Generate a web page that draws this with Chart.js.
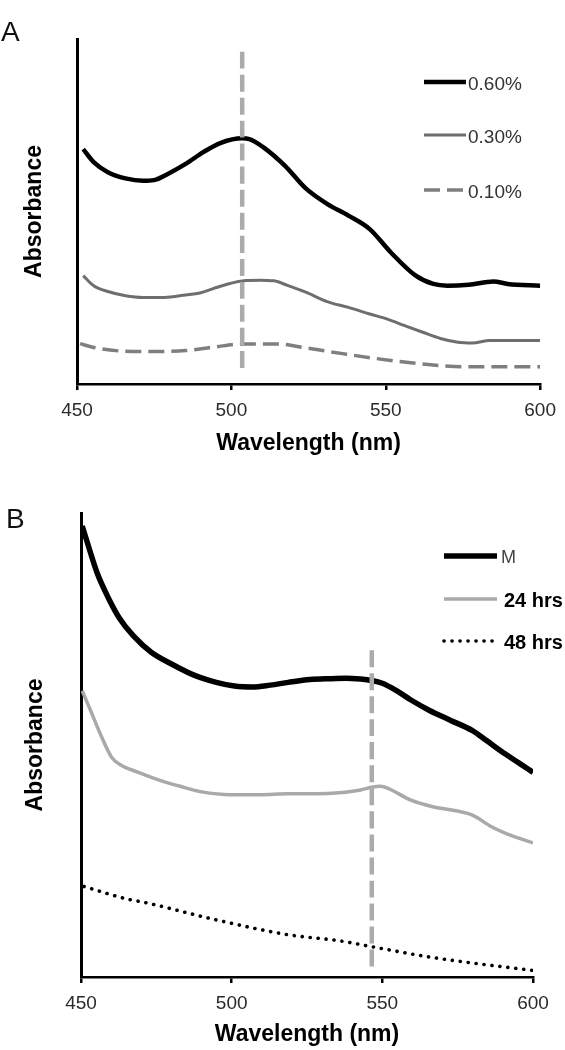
<!DOCTYPE html>
<html><head><meta charset="utf-8">
<script src="https://cdn.jsdelivr.net/npm/chart.js@4.4.1/dist/chart.umd.min.js"></script>
<style>
html,body{margin:0;padding:0;background:#fff;}
body{width:565px;height:1050px;position:relative;overflow:hidden;font-family:'Liberation Sans',Arial,sans-serif;}
.panel{position:absolute;left:0;width:565px;}
.lbl{position:absolute;font-size:28px;line-height:28px;color:#111;}
.txt{position:absolute;white-space:nowrap;}
#leg{position:absolute;left:0;top:0;}
</style></head><body>
<div class="panel" style="top:0;height:470px;"><canvas id="cA"></canvas></div>
<div class="panel" style="top:470px;height:580px;"><canvas id="cB"></canvas></div>
<div class="lbl" style="left:1px;top:18px;">A</div>
<div class="lbl" style="left:6px;top:505px;">B</div>
<svg id="leg" width="565" height="1050" xmlns="http://www.w3.org/2000/svg"></svg>
<script>
// ---------- DATA ----------
const xTicks = [450, 500, 550, 600];
const xTitle = 'Wavelength (nm)';
const yTitle = 'Absorbance';

// Panel A
const namesA = ['0.60%', '0.30%', '0.10%'];
const wlA60 = [452,455.4,460,465.7,471.4,474.9,479.4,485.2,490.9,496.6,503.5,505.8,510.4,517.3,524.1,531,537.9,544.8,551.6,559.7,565.4,570,576.9,584.9,589.5,600];
const absA60 = [0.681,0.643,0.614,0.596,0.589,0.591,0.609,0.638,0.672,0.699,0.712,0.710,0.686,0.633,0.567,0.522,0.488,0.449,0.382,0.314,0.290,0.285,0.288,0.297,0.290,0.285];
const wlA30 = [452,455.4,460,465.7,471.4,478.3,485.2,489.8,494.3,498.9,504.7,509.2,513.8,518.4,524.1,531,537.9,544.8,550.5,556.2,562,567.7,573.4,578,583.7,591.7,600];
const absA30 = [0.314,0.285,0.268,0.256,0.251,0.251,0.258,0.264,0.277,0.290,0.300,0.301,0.299,0.285,0.266,0.239,0.222,0.203,0.188,0.169,0.150,0.132,0.121,0.119,0.126,0.126,0.126];
const wlA10 = [451,455.4,463.4,471.4,485.2,494.3,503.5,515,523,536,545.9,557.4,565.4,574.6,586,600];
const absA10 = [0.117,0.106,0.096,0.094,0.097,0.107,0.116,0.116,0.106,0.088,0.075,0.062,0.055,0.050,0.050,0.050];
const markA = 503.5;
const markAy = [0.963, 0.046];

// Panel B
const namesB = ['M', '24 hrs', '48 hrs'];
const wlBM = [450.4,452.4,455.4,459,462.6,467.4,473.3,480.5,487.7,494.9,500.9,506.9,512.8,518.8,526,533.2,538,542.8,546.4,550,554.7,559.5,565.5,572.7,579.9,584.7,590.7,595.4,600];
const absBM = [0.972,0.930,0.870,0.818,0.775,0.735,0.700,0.673,0.650,0.635,0.627,0.625,0.629,0.635,0.641,0.643,0.644,0.642,0.639,0.633,0.617,0.597,0.575,0.553,0.531,0.509,0.481,0.461,0.441];
const wlB24 = [450.4,453,456.6,460.2,463.2,468.6,475.7,482.9,490.1,499.7,509.3,518.8,528.4,535.6,542.8,546.4,549.4,552.4,559.5,566.7,573.9,579.9,585.9,593.1,600];
const absB24 = [0.617,0.577,0.521,0.473,0.457,0.442,0.425,0.411,0.399,0.393,0.393,0.395,0.395,0.397,0.403,0.409,0.411,0.405,0.381,0.367,0.359,0.349,0.325,0.304,0.289];
const wlB48 = [451,465.3,470.9,494.9,518.8,535.8,546.7,566.7,600];
const absB48 = [0.195,0.168,0.161,0.123,0.091,0.078,0.065,0.042,0.014];
const markB = 546.5;
const markBy = [0.704, 0.018];

// ---------- STYLES ----------
const FONT = "'Liberation Sans', Arial, sans-serif";
Chart.defaults.font.family = FONT;
const stylesA = [
  {color:'#000000', width:4.5, dash:[]},
  {color:'#6e6e6e', width:3, dash:[]},
  {color:'#7f7f7f', width:3.5, dash:[16,7]}
];
const stylesB = [
  {color:'#000000', width:5.5, dash:[]},
  {color:'#a9a9a9', width:3.5, dash:[]},
  {color:'#000000', width:3.6, dash:[0.1,7.9], cap:'round'}
];
const markStyle = {color:'#ababab', width:4.5, dash:[17,6]};

const xy = (xs, ys) => xs.map((x, i) => ({x: x, y: ys[i]}));

function lineDs(label, data, st, order) {
  return {
    label: label, data: data, borderColor: st.color, borderWidth: st.width,
    borderDash: st.dash, borderCapStyle: st.cap || 'butt', pointRadius: 0,
    cubicInterpolationMode: 'monotone', fill: false, order: order
  };
}

function makeChart(id, datasets, cfg) {
  return new Chart(document.getElementById(id), {
    type: 'line',
    data: {datasets: datasets},
    options: {
      responsive: true, maintainAspectRatio: false, animation: false,
      devicePixelRatio: 1,
      layout: {padding: {left: 0, right: cfg.padRight, top: cfg.padTop, bottom: 0}},
      plugins: {legend: {display: false}, tooltip: {enabled: false}},
      events: [],
      scales: {
        x: {
          type: 'linear', min: xTicks[0], max: xTicks[xTicks.length - 1],
          afterBuildTicks: s => { s.ticks = xTicks.map(v => ({value: v})); },
          ticks: {font: {size: 19}, color: '#2a2a2a', padding: 9, maxRotation: 0, autoSkip: false},
          grid: {display: true, drawOnChartArea: false, drawTicks: true, tickLength: 6, color: '#000', lineWidth: 2.5},
          border: {display: true, color: '#000', width: 2.5},
          title: {display: true, text: xTitle, color: '#000', font: {size: 23, weight: 'bold'},
                  padding: {top: 0, bottom: cfg.xTitlePad}},
          afterFit: s => { s.height = cfg.xHeight; }
        },
        y: {
          min: 0, max: 1,
          ticks: {display: false},
          grid: {display: false},
          border: {display: true, color: '#000', width: 3},
          title: {display: true, text: yTitle, color: '#000', font: {size: 23, weight: 'bold'},
                  padding: {top: cfg.yTitlePad, bottom: 0}},
          afterFit: s => { s.width = cfg.yWidth; }
        }
      }
    }
  });
}

makeChart('cA', [
  lineDs('mark', xy([markA, markA], markAy), markStyle, 0),
  lineDs(namesA[0], xy(wlA60, absA60), stylesA[0], 1),
  lineDs(namesA[1], xy(wlA30, absA30), stylesA[1], 2),
  lineDs(namesA[2], xy(wlA10, absA10), stylesA[2], 3)
], {padRight: 17, padTop: 39, xHeight: 86, yWidth: 77, xTitlePad: 13, yTitlePad: 21});

makeChart('cB', [
  lineDs('mark', xy([markB, markB], markBy), markStyle, 0),
  lineDs(namesB[0], xy(wlBM, absBM), stylesB[0], 1),
  lineDs(namesB[1], xy(wlB24, absB24), stylesB[1], 2),
  lineDs(namesB[2], xy(wlB48, absB48), stylesB[2], 3)
], {padRight: 32, padTop: 43, xHeight: 73, yWidth: 81, xTitlePad: 2, yTitlePad: 22});

// ---------- LEGENDS ----------
const svg = document.getElementById('leg');
const NS = 'http://www.w3.org/2000/svg';
function legend(names, styles, lay) {
  names.forEach((n, i) => {
    const st = styles[i];
    const ln = document.createElementNS(NS, 'line');
    ln.setAttribute('x1', lay.x1); ln.setAttribute('x2', lay.x2);
    ln.setAttribute('y1', lay.ys[i]); ln.setAttribute('y2', lay.ys[i]);
    ln.setAttribute('stroke', st.color); ln.setAttribute('stroke-width', st.width);
    if (st.dash.length) ln.setAttribute('stroke-dasharray', st.dash.join(' '));
    ln.setAttribute('stroke-linecap', st.cap || 'butt');
    svg.appendChild(ln);
    const d = document.createElement('div');
    d.className = 'txt';
    const fs = lay.sizes[i];
    d.style.left = lay.tx[i] + 'px';
    d.style.top = (lay.ys[i] + 1 - fs / 2) + 'px';
    d.style.fontSize = fs + 'px';
    d.style.lineHeight = fs + 'px';
    d.style.fontWeight = lay.weights[i];
    d.style.color = lay.colors[i];
    d.textContent = n;
    document.body.appendChild(d);
  });
}
legend(namesA, stylesA, {x1: 424, x2: 466, ys: [82, 135, 190], tx: [468, 468, 468],
  sizes: [19, 19, 19], weights: ['normal', 'normal', 'normal'], colors: ['#333', '#333', '#333']});
legend(namesB, stylesB, {x1: 444, x2: 497, ys: [556, 599, 641], tx: [501, 504, 504],
  sizes: [18, 20, 20], weights: ['normal', 'bold', 'bold'], colors: ['#444', '#000', '#000']});
</script>
</body></html>
